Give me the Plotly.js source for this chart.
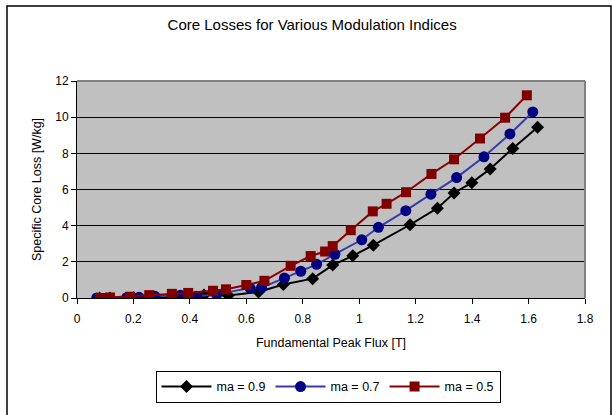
<!DOCTYPE html>
<html>
<head>
<meta charset="utf-8">
<script src="https://cdn.plot.ly/plotly-3.0.1.min.js"></script>
<style>
html,body{margin:0;padding:0;background:#fff;}
#chart{width:612px;height:415px;}
</style>
</head>
<body>
<div id="chart"></div>
<script>
// Series names
const seriesNames = ["ma = 0.9", "ma = 0.7", "ma = 0.5"];

// ma = 0.9
const x09 = [0.08, 0.117, 0.2, 0.253, 0.33, 0.394, 0.45, 0.536, 0.643, 0.731, 0.835, 0.906, 0.977, 1.050, 1.180, 1.277, 1.336, 1.399, 1.464, 1.544, 1.632];
const y09 = [0, 0, 0.01, 0.02, 0.03, 0.05, 0.17, 0.14, 0.33, 0.75, 1.07, 1.82, 2.33, 2.92, 4.05, 4.97, 5.81, 6.38, 7.14, 8.27, 9.44];

// ma = 0.7
const x07 = [0.07, 0.176, 0.22, 0.276, 0.366, 0.424, 0.495, 0.613, 0.654, 0.735, 0.793, 0.849, 0.914, 1.009, 1.068, 1.165, 1.254, 1.345, 1.442, 1.534, 1.615];
const y07 = [0, 0.02, 0.04, 0.09, 0.15, 0.09, 0.2, 0.55, 0.58, 1.1, 1.48, 1.86, 2.42, 3.22, 3.91, 4.83, 5.74, 6.66, 7.81, 9.07, 10.29];

// ma = 0.5
const x05 = [0.082, 0.117, 0.188, 0.256, 0.336, 0.394, 0.482, 0.528, 0.600, 0.664, 0.757, 0.828, 0.879, 0.906, 0.970, 1.048, 1.097, 1.166, 1.256, 1.336, 1.428, 1.517, 1.594];
const y05 = [0, 0.03, 0.07, 0.16, 0.23, 0.28, 0.4, 0.48, 0.72, 0.95, 1.78, 2.32, 2.57, 2.87, 3.75, 4.79, 5.21, 5.85, 6.86, 7.67, 8.82, 9.97, 11.21];

const xTicks = [0, 0.2, 0.4, 0.6, 0.8, 1, 1.2, 1.4, 1.6, 1.8];
const yTicks = [0, 2, 4, 6, 8, 10, 12];

const FONT = "Liberation Sans, Arial, sans-serif";

const traces = [
  {x: x09, y: y09, name: seriesNames[0], type: "scatter", mode: "lines+markers",
   line: {color: "#000000", width: 2},
   marker: {symbol: "diamond", size: 10, color: "#000000"}},
  {x: x07, y: y07, name: seriesNames[1], type: "scatter", mode: "lines+markers",
   line: {color: "#3b3ba8", width: 2},
   marker: {symbol: "circle", size: 11, color: "#000080"}},
  {x: x05, y: y05, name: seriesNames[2], type: "scatter", mode: "lines+markers",
   line: {color: "#8b0000", width: 2},
   marker: {symbol: "square", size: 10, color: "#800000"}}
];

const L = 77, R = 585, T = 81, B = 307, W = 612, H = 415;
const pw = R - L, ph = B - T;
const px = v => (v - L) / pw;
const py = v => (B - v) / ph;

const layout = {
  width: W, height: H,
  margin: {l: L, r: W - R, t: T, b: H - B, pad: 0},
  paper_bgcolor: "#ffffff",
  plot_bgcolor: "#c0c0c0",
  font: {family: FONT, size: 12, color: "#000"},
  title: {text: "Core Losses for Various Modulation Indices", font: {family: FONT, size: 15, color: "#000"},
          x: 0.51, xanchor: "center", y: 1 - 25 / H, yanchor: "middle"},
  showlegend: true,
  legend: {orientation: "h", x: px(328), xanchor: "center", y: py(383), yanchor: "top",
           bordercolor: "#000", borderwidth: 1, bgcolor: "#fff",
           font: {family: FONT, size: 12.5, color: "#000"}, itemwidth: 50, traceorder: "normal"},
  xaxis: {
    range: [0, 1.8], tickvals: xTicks, ticktext: xTicks.map(String),
    showgrid: false, zeroline: false,
    showline: true, linecolor: "#000", linewidth: 1,
    ticks: "outside", ticklen: 5, tickcolor: "#000", ticklabelstandoff: 5,
    tickfont: {family: FONT, size: 12, color: "#000"},
    title: {text: "Fundamental Peak Flux [T]", font: {family: FONT, size: 12.5, color: "#000"}, standoff: 12},
    fixedrange: true
  },
  yaxis: {
    range: [0, 12], tickvals: yTicks, ticktext: yTicks.map(String),
    showgrid: true, gridcolor: "#000", gridwidth: 1, zeroline: false,
    showline: true, linecolor: "#000", linewidth: 1,
    ticks: "outside", ticklen: 5, tickcolor: "#000",
    tickfont: {family: FONT, size: 12, color: "#000"},
    title: {text: "Specific Core Loss [W/kg]", font: {family: FONT, size: 12.5, color: "#000"}, standoff: 10},
    fixedrange: true
  },
  shapes: [
    // plot-area top and right border (gray)
    {type: "line", xref: "paper", yref: "paper", x0: 0, x1: 1, y0: 1, y1: 1, line: {color: "#808080", width: 2}},
    {type: "line", xref: "paper", yref: "paper", x0: 1, x1: 1, y0: 0, y1: 1, line: {color: "#808080", width: 2}},
    // outer chart border
    {type: "rect", xref: "paper", yref: "paper", x0: px(7), x1: px(611), y0: py(3), y1: py(430),
     line: {color: "#000", width: 1.5}, fillcolor: "rgba(0,0,0,0)", layer: "above"}
  ]
};

Plotly.newPlot("chart", traces, layout, {displayModeBar: false, staticPlot: true});
</script>
</body>
</html>
